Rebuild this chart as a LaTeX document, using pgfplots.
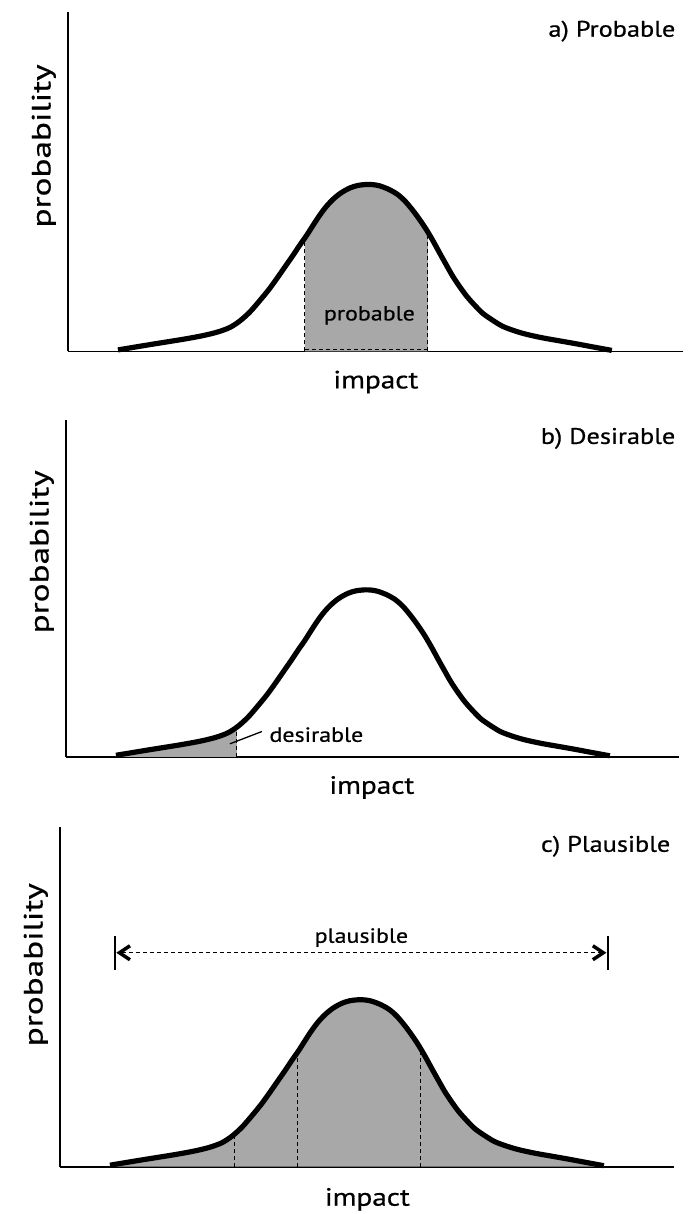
\documentclass[border=0pt]{standalone}
\usepackage{pgfplots}
\pgfplotsset{compat=1.18}
\usepackage{pgfplotstable}
\usepackage{fontspec}
\setmainfont{PT Sans}
\newfontfamily\labfont[FakeStretch=1.17, FakeBold=0.6]{PT Sans}
\newfontfamily\ylabfont[FakeStretch=1.33, FakeBold=0.6]{PT Sans}
\definecolor{shade}{RGB}{168,168,168}

\pgfplotstableread{
x y
50 1.5
82 6.8
115 12.1
135 15.8
150 19.5
162 24
172 30.5
182 39.5
192 51
201 62
209 73
217 84.5
225 96
232 106.5
239 116.5
246 127.5
252 136.5
258 144.5
265 152
273 158.5
282 163.5
290 166
299 167
306 166.7
312 165.5
320 162.5
329 157.5
337 150.5
345 141
352 131.5
359 121
366 109
372 98
379 85.5
385 75
392 64.5
399 55
407 46
415 38
425 31
435 25
447 20.5
459 17
475 13.5
492 10.5
509 7.5
525 4.5
544 1
}\curvedata

\pgfplotstableread{
x y
237 113.6
246 127.5
252 136.5
258 144.5
265 152
273 158.5
282 163.5
290 166
299 167
306 166.7
312 165.5
320 162.5
329 157.5
337 150.5
345 141
352 131.5
360 119.3
}\probdata

\pgfplotstableread{
x y
50 1.5
82 6.8
115 12.1
135 15.8
150 19.5
162 24
171 29.8
}\desdata

\pgfplotsset{
  panel/.style={
    scale only axis, anchor=south west,
    xmin=0, ymin=0,
    axis lines=left, axis line style={-, line width=1.7pt},
    xtick=\empty, ytick=\empty, clip=false,
  },
  bell/.style={black, line width=5.2pt, smooth, no markers, line join=round},
  shadefill/.style={fill=shade, draw=none, smooth, no markers},
}
\newcommand{\axlab}{\labfont\fontsize{25}{30}\selectfont}
\newcommand{\ylab}{\ylabfont\fontsize{26.5}{30}\selectfont}
\newcommand{\ttl}{\labfont\fontsize{22.5}{27}\selectfont}
\newcommand{\inl}{\labfont\fontsize{20.5}{24}\selectfont}

\begin{document}
\begin{tikzpicture}
\path (0pt,0pt) rectangle (689pt,-1214pt);

% ---------- a) Probable ----------
\begin{axis}[panel, at={(68pt,-351.5pt)}, width=615pt, height=339.5pt, xmax=615, ymax=339.5]
\addplot[shadefill] table[x=x,y=y] {\probdata} \closedcycle;
\draw[line width=1pt, dash pattern=on 4pt off 3pt] (axis cs:237,0) -- (axis cs:237,113);
\draw[line width=1pt, dash pattern=on 4pt off 3pt] (axis cs:360,0) -- (axis cs:360,118);
\draw[line width=1pt, dash pattern=on 4pt off 3pt] (axis cs:237,1.5) -- (axis cs:360,1.5);
\addplot[bell] table[x=x,y=y] {\curvedata};
\node[font=\inl, anchor=base] at (axis cs:301.5,31) {probable};
\node[font=\axlab, anchor=base] at (axis cs:308,-37) {impact};
\node[font=\ylab, anchor=base, rotate=90] at (axis cs:-17.5,205.5) {probability};
\node[font=\ttl, anchor=base east] at (axis cs:611,314.8) {a) Probable};
\end{axis}

% ---------- b) Desirable ----------
\begin{axis}[panel, at={(66pt,-757pt)}, width=613pt, height=337pt, xmax=613, ymax=337]
\addplot[shadefill] table[x=x,y=y] {\desdata} \closedcycle;
\draw[line width=1pt, dash pattern=on 4pt off 3pt] (axis cs:171,0) -- (axis cs:171,29);
\addplot[bell] table[x=x,y=y] {\curvedata};
\draw[line width=1.3pt] (axis cs:164,13) -- (axis cs:196,25.3);
\node[font=\inl, anchor=base west] at (axis cs:200,15) {desirable};
\node[font=\axlab, anchor=base] at (axis cs:306,-37) {impact};
\node[font=\ylab, anchor=base, rotate=90] at (axis cs:-17.5,205) {probability};
\node[font=\ttl, anchor=base east] at (axis cs:613,313) {b) Desirable};
\end{axis}

% ---------- c) Plausible ----------
\begin{axis}[panel, at={(60pt,-1167pt)}, width=614pt, height=340pt, xmax=614, ymax=340]
\addplot[shadefill] table[x=x,y=y] {\curvedata} \closedcycle;
\draw[line width=1pt, dash pattern=on 4pt off 3pt] (axis cs:175,0) -- (axis cs:175,33);
\draw[line width=1pt, dash pattern=on 4pt off 3pt] (axis cs:238,0) -- (axis cs:238,114);
\draw[line width=1pt, dash pattern=on 4pt off 3pt] (axis cs:361,0) -- (axis cs:361,117);
\addplot[bell] table[x=x,y=y] {\curvedata};
% plausible range arrow
\draw[line width=1pt, dash pattern=on 4pt off 3pt] (axis cs:62,214) -- (axis cs:541,214);
\draw[line width=2pt] (axis cs:54.6,197) -- (axis cs:54.6,231);
\draw[line width=2pt] (axis cs:547.9,197) -- (axis cs:547.9,231);
\draw[line width=3.5pt, line join=miter] (axis cs:70,221) -- (axis cs:59.5,214) -- (axis cs:70,207);
\draw[line width=3.5pt, line join=miter] (axis cs:533,221) -- (axis cs:543.5,214) -- (axis cs:533,207);
\node[font=\inl, anchor=base] at (axis cs:301.5,224) {plausible};
\node[font=\axlab, anchor=base] at (axis cs:307.5,-39) {impact};
\node[font=\ylab, anchor=base, rotate=90] at (axis cs:-17.5,202) {probability};
\node[font=\ttl, anchor=base east] at (axis cs:614,315) {c) Plausible};
\end{axis}
\end{tikzpicture}
\end{document}
